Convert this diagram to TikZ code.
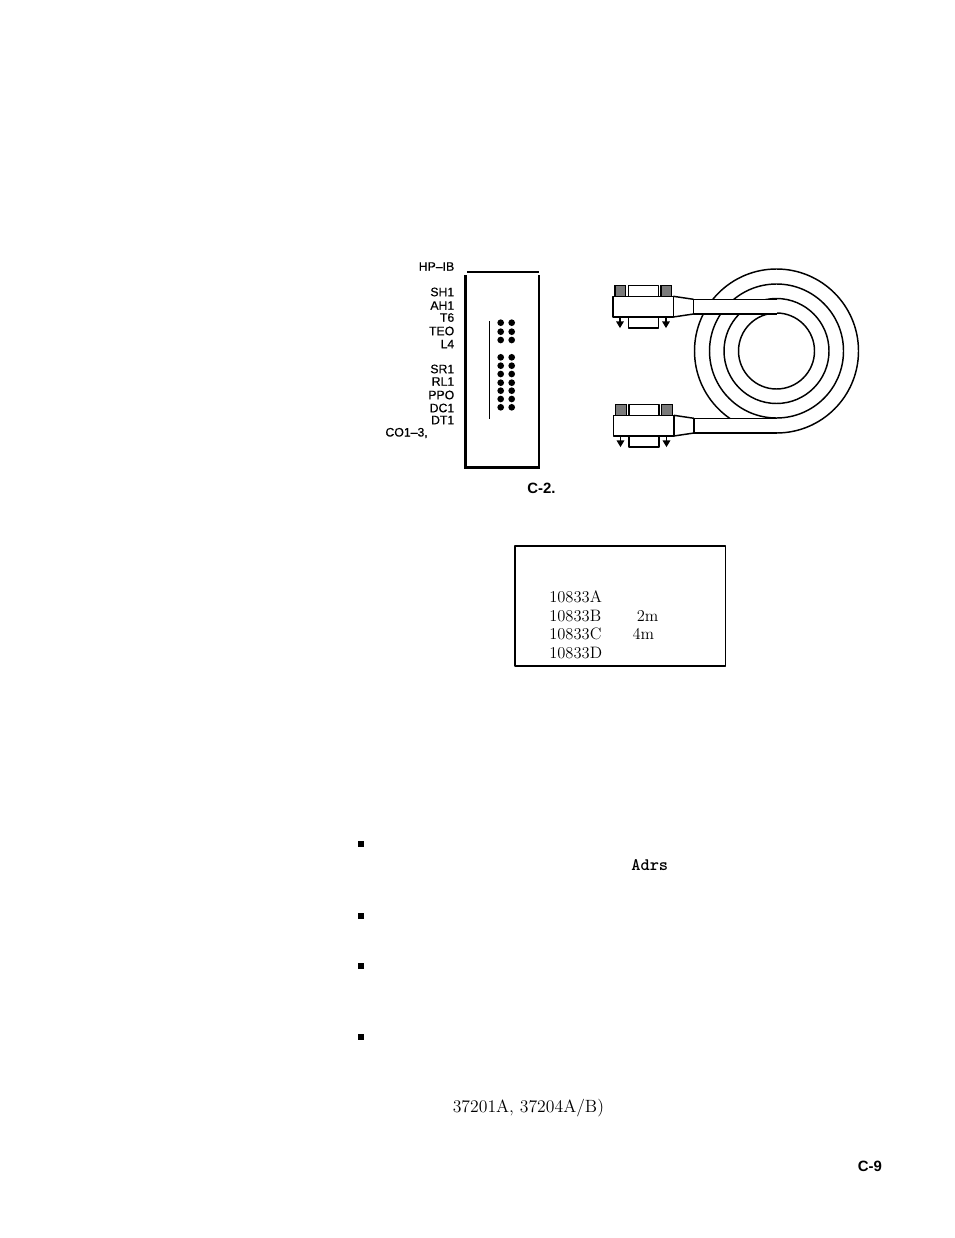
\documentclass[tikz,border=0pt]{standalone}
\usepackage{fontspec}
\setsansfont{Liberation Sans}
\newfontfamily\labfont[FakeBold=0.5]{Liberation Sans}
\usepackage{xcolor}
\usepackage{tikz}
\definecolor{ink}{HTML}{000000}
\definecolor{knurl}{HTML}{7A7A7A}
\tikzset{
  base/.style={draw=ink, line width=1.1pt, line join=round},
  heavy/.style={draw=ink, line width=2pt},
  thin/.style={draw=ink, line width=0.8pt},
  dot/.style={circle, fill=ink, inner sep=0pt, minimum size=5pt},
  lab/.style={text=ink, font=\fontsize{9.2}{11}\labfont, anchor=east, inner sep=0pt},
  roman/.style={text=ink, font=\fontsize{12.4}{14}\selectfont, anchor=west, inner sep=0pt},
  head/.style={text=ink, font=\fontsize{11.2}{13}\sffamily\bfseries, anchor=west, inner sep=0pt},
  bullet/.style={fill=ink, inner sep=0pt, minimum size=4.6pt},
}

\begin{document}
\begin{tikzpicture}[x=0.75pt,y=-0.75pt]
  \useasboundingbox (0,0) rectangle (954,1238);
  \coordinate (O) at (776.5,351);
  \foreach \y/\name/\txt in {266.5/hpib/HP–IB,292/shone/SH1,305.5/ahone/AH1,317.5/tsix/T6,331/teo/TEO,344/lfour/L4,
    369/srone/SR1,381.5/rlone/RL1,395/ppo/PPO,408/dcone/DC1,420/dtone/DT1}
    \node[lab] (\name) at (454.5,\y) {\txt};
  \node[lab] (coone) at (428,433) {CO1–3,};
  \draw[heavy] (467,272) -- (539,272);
  \draw[heavy] (465.5,275) -- (465.5,467.5) -- (539.5,467.5);
  \draw[base] (539,275) -- (539,467);
  \draw[thin] (489.5,321) -- (489.5,419);
  \foreach \y in {322.7,331.7,340,357.3,365.7,374,382.7,390.7,399,407.3} {
    \node[dot] at (500.7,\y) {};
    \node[dot] at (511.7,\y) {};
  }
  \foreach \r in {82,67,52.5,38}
    \draw[base] (O) circle (\r);
  \foreach \dy/\dx in {0/0,119/0.5} {
    \begin{scope}[shift={(\dx,\dy)}]
      \fill[white] (693.5,299.3) rectangle (776.5,314);
      \draw[base] (776.5,299.3) -- (693.5,299.3) -- (693.5,314) -- (776.5,314);
      \draw[base] (673.3,296.3) -- (693.5,299.3) (673.3,317) -- (693.5,314);
      \draw[base] (613,296.3) rectangle (673.3,317);
      \draw[base] (628.5,285.3) rectangle (658.3,296.3);
      \draw[base] (628.5,317) rectangle (658.3,328);
      \foreach \x in {615,661}
        \draw[thin,fill=knurl] (\x,285.3) rectangle ++(10.7,11);
      \foreach \x in {620,666} {
        \draw[thin] (\x,317) -- (\x,322);
        \draw[thin,fill=ink] (\x-3,322) -- (\x+3,322) -- (\x,327) -- cycle;
      }
    \end{scope}
  }
  \node[head] (fig) at (527,488) {C-2.};
  \draw[base,line width=1.3pt] (515,545.7) rectangle (725.5,665.7);
  \foreach \y/\name/\txt in {596.7/parta/10833A,616/partb/10833B,633.8/partc/10833C,652.7/partd/10833D}
    \node[roman] (\name) at (549,\y) {\txt};
  \node[roman] (lenb) at (636.5,616) {2m};
  \node[roman] (lenc) at (632.3,633.8) {4m};
  \foreach \y/\name in {844/bulleta,916/bulletb,966/bulletc,1037/bulletd}
    \node[bullet] (\name) at (361,\y) {};
  \node[anchor=west,inner sep=0pt,font=\fontsize{13.2}{15}\ttfamily\bfseries] (adrs) at (631,865) {Adrs};
  \node[roman,font=\fontsize{13.3}{15}\selectfont] (model) at (452.5,1108) {37201A, 37204A/B)};
  \node[head] (page) at (857.5,1166) {C-9};
\end{tikzpicture}
\end{document}
